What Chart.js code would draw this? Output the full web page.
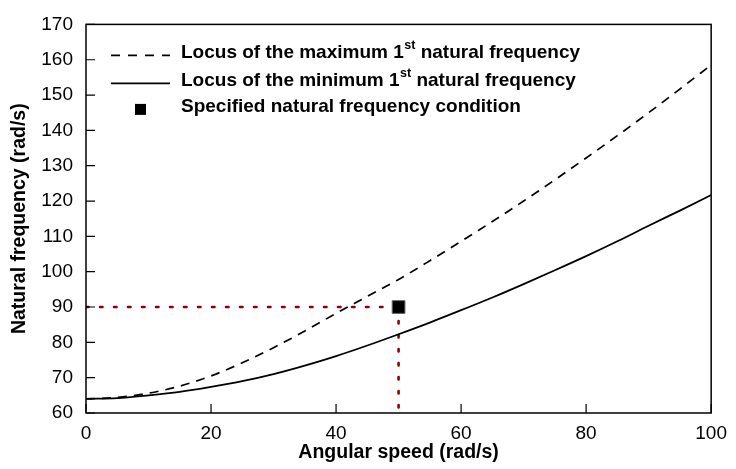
<!DOCTYPE html>
<html>
<head>
<meta charset="utf-8">
<script src="https://cdn.jsdelivr.net/npm/chart.js@4"></script>
<style>
  html, body { margin: 0; padding: 0; background: #fff; }
  #wrap { width: 736px; height: 469px; }
</style>
</head>
<body>
<div id="wrap"><canvas id="c" width="736" height="469"></canvas></div>
<script>
// ---- data ----
const angularSpeed = [0, 5, 10, 15, 20, 25, 30, 35, 40, 45, 50, 55, 60, 65, 70, 75, 80, 85, 90, 95, 100];
const maxFreq = [64, 64.4, 65.6, 67.6, 70.5, 74.2, 78.5, 83.2, 88.2, 93.0, 97.8, 103.1, 108.6, 114.2, 120, 126, 132.2, 138.5, 145, 151.7, 158.5];
const minFreq = [64, 64.2, 65.0, 66.0, 67.4, 69.0, 71.0, 73.4, 76.1, 79.1, 82.3, 85.6, 89.1, 92.7, 96.5, 100.4, 104.4, 108.6, 113, 117.3, 121.7];
const conditionSpeed = [50];
const conditionFreq = [90];
const xTicks = [0, 20, 40, 60, 80, 100];
const yTicks = [60, 70, 80, 90, 100, 110, 120, 130, 140, 150, 160, 170];
const legendLabels = [
  ['Locus of the maximum 1', 'st', ' natural frequency'],
  ['Locus of the minimum 1', 'st', ' natural frequency'],
  ['Specified natural frequency condition', '', '']
];

const FONT = '"Liberation Sans", Arial, Helvetica, sans-serif';
const pts = (xs, ys) => xs.map((x, i) => ({ x: x, y: ys[i] }));

const boxAndTicks = {
  id: 'boxAndTicks',
  afterDraw(chart) {
    const { ctx, chartArea: a, scales } = chart;
    ctx.save();
    ctx.strokeStyle = '#000';
    ctx.lineWidth = 1.5;
    ctx.strokeRect(a.left, a.top, a.right - a.left, a.bottom - a.top);
    ctx.lineWidth = 1.2;
    ctx.beginPath();
    xTicks.forEach(v => {
      const px = scales.x.getPixelForValue(v);
      ctx.moveTo(px, a.bottom); ctx.lineTo(px, a.bottom - 9);
    });
    yTicks.forEach(v => {
      const py = scales.y.getPixelForValue(v);
      ctx.moveTo(a.left, py); ctx.lineTo(a.left + 9, py);
    });
    ctx.stroke();

    // legend
    const rows = [a.top + 31, a.top + 59, a.top + 85];
    const sx0 = a.left + 25, sx1 = a.left + 84, tx = a.left + 95;
    ctx.strokeStyle = '#000';
    ctx.lineWidth = 1.6;
    ctx.setLineDash([9, 8]);
    ctx.beginPath(); ctx.moveTo(sx0, rows[0]); ctx.lineTo(sx1, rows[0]); ctx.stroke();
    ctx.setLineDash([]);
    ctx.beginPath(); ctx.moveTo(sx0, rows[1]); ctx.lineTo(sx1, rows[1]); ctx.stroke();
    ctx.fillStyle = '#000';
    ctx.fillRect((sx0 + sx1) / 2 - 5.5, rows[2] - 5.5, 11, 11);

    ctx.textBaseline = 'middle';
    ctx.textAlign = 'left';
    legendLabels.forEach((parts, i) => {
      let x = tx;
      const ty = rows[i] - 2.5;
      ctx.font = 'bold 19px ' + FONT;
      ctx.fillText(parts[0], x, ty);
      x += ctx.measureText(parts[0]).width + 0.5;
      if (parts[1]) {
        ctx.font = 'bold 12.5px ' + FONT;
        ctx.fillText(parts[1], x, ty - 7.5);
        x += ctx.measureText(parts[1]).width;
      }
      if (parts[2]) {
        ctx.font = 'bold 19px ' + FONT;
        ctx.fillText(parts[2], x, ty);
      }
    });
    ctx.restore();
  }
};

new Chart(document.getElementById('c'), {
  type: 'line',
  data: {
    datasets: [
      {
        label: 'condition',
        data: pts(conditionSpeed, conditionFreq),
        showLine: false,
        pointStyle: 'rect', pointRadius: 9, pointHoverRadius: 9,
        pointBackgroundColor: '#000', pointBorderColor: '#666', pointBorderWidth: 1
      },
      {
        label: 'max',
        data: pts(angularSpeed, maxFreq),
        borderColor: '#000', borderWidth: 1.7, borderDash: [9, 7],
        pointRadius: 0, cubicInterpolationMode: 'monotone', fill: false
      },
      {
        label: 'min',
        data: pts(angularSpeed, minFreq),
        borderColor: '#000', borderWidth: 1.8,
        pointRadius: 0, cubicInterpolationMode: 'monotone', fill: false
      },
      {
        label: 'h-guide',
        data: [{ x: 0, y: conditionFreq[0] }, { x: conditionSpeed[0], y: conditionFreq[0] }],
        borderColor: '#8b0000', borderWidth: 2.6, borderDash: [2.5, 11.5], borderCapStyle: 'round',
        pointRadius: 0, fill: false
      },
      {
        label: 'v-guide',
        data: [{ x: conditionSpeed[0], y: conditionFreq[0] }, { x: conditionSpeed[0], y: 60 }],
        borderColor: '#8b0000', borderWidth: 2.6, borderDash: [2.5, 11.5], borderCapStyle: 'round',
        pointRadius: 0, fill: false
      }
    ]
  },
  options: {
    responsive: false,
    animation: false,
    events: [],
    layout: { padding: { left: 0, top: 20, right: 22, bottom: 0 } },
    plugins: { legend: { display: false }, tooltip: { enabled: false } },
    scales: {
      x: {
        type: 'linear', min: 0, max: 100,
        afterFit: s => { s.height = 56; },
        afterBuildTicks: s => { s.ticks = xTicks.map(v => ({ value: v })); },
        grid: { display: false, drawTicks: false },
        border: { display: false },
        ticks: { color: '#000', font: { family: FONT, size: 19 }, padding: 9, maxRotation: 0 },
        title: { display: true, text: 'Angular speed (rad/s)', color: '#000',
                 font: { family: FONT, size: 19.5, weight: 'bold' }, padding: { top: 0, bottom: 5 } }
      },
      y: {
        type: 'linear', min: 60, max: 170,
        afterFit: s => { s.width = 86; },
        afterBuildTicks: s => { s.ticks = yTicks.map(v => ({ value: v })); },
        grid: { display: false, drawTicks: false },
        border: { display: false },
        ticks: { color: '#000', font: { family: FONT, size: 19 }, padding: 13 },
        title: { display: true, text: 'Natural frequency (rad/s)', color: '#000',
                 font: { family: FONT, size: 19.5, weight: 'bold' }, padding: { top: 8, bottom: 0 } }
      }
    }
  },
  plugins: [boxAndTicks]
});
</script>
</body>
</html>
